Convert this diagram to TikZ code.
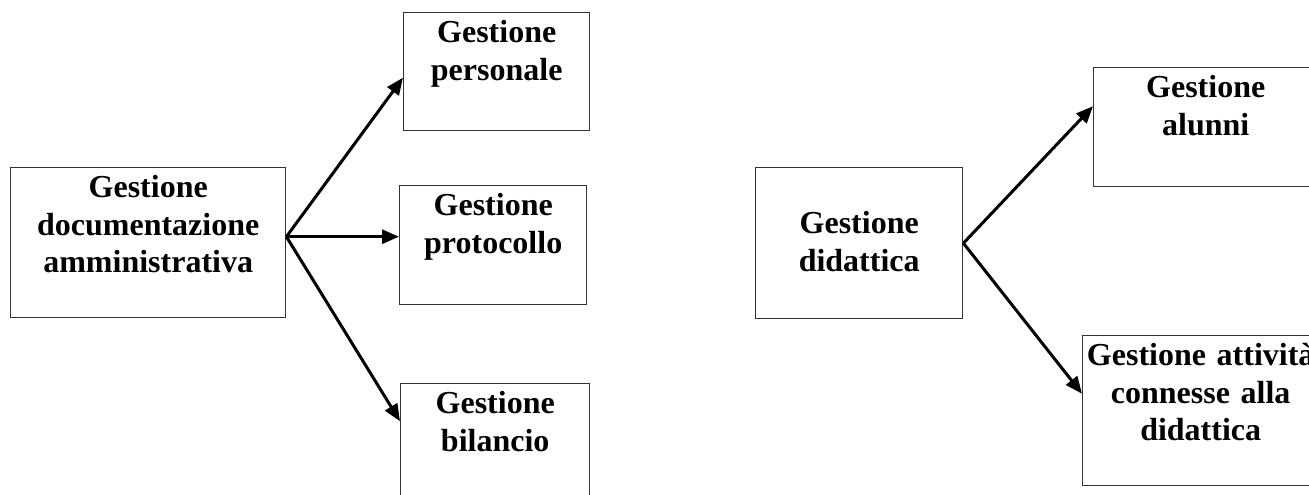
\documentclass[tikz,border=0pt]{standalone}
\usepackage{fontspec}
\setmainfont{Liberation Serif}
\usetikzlibrary{arrows.meta}

\begin{document}
\begin{tikzpicture}[x=1pt, y=-1pt,
      every node/.style = {shape=rectangle, draw=black!80, line width=1.4pt,
        align=center, anchor=north west, inner sep=0pt, text height=30pt,
        font=\bfseries\fontsize{32}{37.5}\selectfont},
      freccia/.style = {line width=3pt, -{Triangle[length=17pt,width=14pt]}}]
  \useasboundingbox (0,0) rectangle (1309,495);
  % area amministrativa
  \node[text width=275pt, text depth=120pt] (amm) at (10,167)
    {Gestione\\documentazione\\amministrativa};
  \node[text width=186pt, text depth=88pt] (pers) at (403,12) {Gestione\\personale};
  \node[text width=187pt, text depth=89pt] (prot) at (399,185) {Gestione\\protocollo};
  \node[text width=189pt, text depth=89pt] (bil) at (400,383) {Gestione\\bilancio};
  % area didattica
  \node[text width=207pt, text height=66pt, text depth=85pt] (did) at (755,167)
    {Gestione\\didattica};
  \node[text width=224pt, text depth=89pt] (alu) at (1093,67) {Gestione\\alunni};
  \node[text width=236pt, text depth=120pt] (att) at (1082,335)
    {Gestione attività\\connesse alla\\didattica};
  \draw[freccia] ([yshift=6pt]amm.east) -- ([yshift=-6pt]pers.west);
  \draw[freccia] ([yshift=6pt]amm.east) -- ([yshift=8.5pt]prot.west);
  \draw[freccia] ([yshift=6pt]amm.east) -- ([yshift=22pt]bil.west);
  \draw[freccia] (did.east) -- ([yshift=21pt]alu.west);
  \draw[freccia] (did.east) -- ([yshift=17pt]att.west);
\end{tikzpicture}
\end{document}
